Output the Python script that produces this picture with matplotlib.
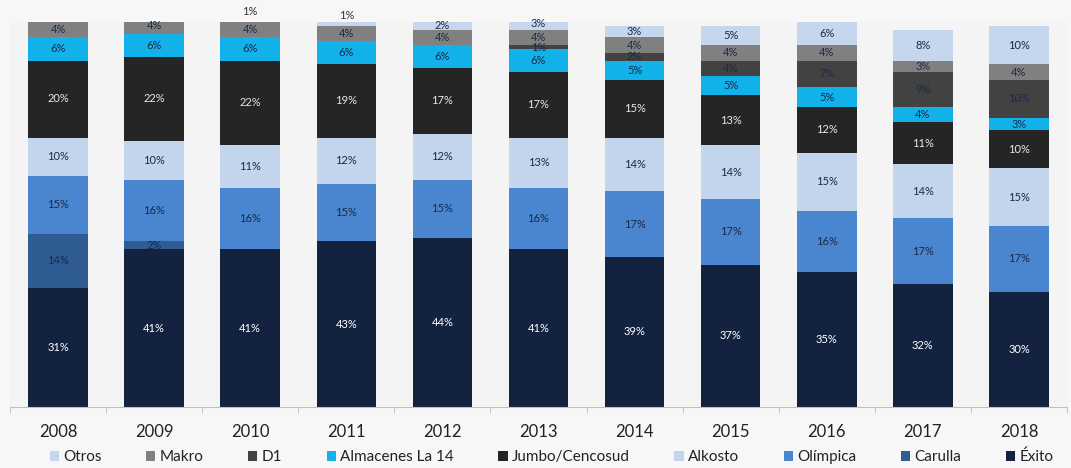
import numpy as np
import matplotlib.pyplot as plt

plt.rcParams['font.family'] = ['Lato', 'DejaVu Sans']

years = ['2008', '2009', '2010', '2011', '2012', '2013', '2014', '2015', '2016', '2017', '2018']

# participacion de mercado (%) por cadena, de abajo hacia arriba
exito = [31, 41, 41, 43, 44, 41, 39, 37, 35, 32, 30]
carulla = [14, 2, 0, 0, 0, 0, 0, 0, 0, 0, 0]
olimpica = [15, 16, 16, 15, 15, 16, 17, 17, 16, 17, 17]
alkosto = [10, 10, 11, 12, 12, 13, 14, 14, 15, 14, 15]
jumbo = [20, 22, 22, 19, 17, 17, 15, 13, 12, 11, 10]
la14 = [6, 6, 6, 6, 6, 6, 5, 5, 5, 4, 3]
d1 = [0, 0, 0, 0, 0, 1, 2, 4, 7, 9, 10]
makro = [4, 4, 4, 4, 4, 4, 4, 4, 4, 3, 4]
otros = [0, 0, 1, 1, 2, 3, 3, 5, 6, 8, 10]

series = [
    ('Éxito', exito, '#13233f', 'white'),
    ('Carulla', carulla, '#2f5c93', '#1a2a44'),
    ('Olímpica', olimpica, '#4a86d0', '#1a2a44'),
    ('Alkosto', alkosto, '#c3d5ec', '#1a2a44'),
    ('Jumbo/Cencosud', jumbo, '#252525', '#e8e8e8'),
    ('Almacenes La 14', la14, '#12b1ea', '#1a2a44'),
    ('D1', d1, '#424242', '#1a2a44'),
    ('Makro', makro, '#808080', '#1a2a44'),
    ('Otros', otros, '#c6d6ec', '#1a2a44'),
]

fig = plt.figure(figsize=(10.71, 4.68), dpi=100)
fig.patch.set_facecolor('#f7f7f7')
ax = fig.add_axes([10 / 1071, 1 - 407 / 468, 1057 / 1071, 385 / 468])
ax.set_facecolor('#f4f4f4')

x = np.arange(len(years))
bottom = np.zeros(len(years))
for name, vals, color, tcolor in series:
    vals = np.array(vals, dtype=float)
    ax.bar(x, vals, 0.62, bottom=bottom, color=color, label=name, linewidth=0)
    for i, v in enumerate(vals):
        if v <= 0:
            continue
        if v < 1.5 and name == 'Otros':
            # etiqueta encima de la barra
            ax.text(x[i], bottom[i] + v + 0.3, f'{int(v)}%', ha='center', va='bottom',
                    fontsize=8, color='#333333')
        else:
            ax.text(x[i], bottom[i] + v / 2, f'{int(v)}%', ha='center', va='center',
                    fontsize=8, color=tcolor)
    bottom += vals

ax.set_xlim(-0.5, len(years) - 0.5)
ax.set_ylim(0, 100)
ax.set_xticks(x)
ax.set_xticklabels(years, fontsize=12, color='#222222')
ax.set_xticks(np.arange(-0.5, len(years), 1), minor=True)
ax.tick_params(axis='x', which='major', length=0, pad=12)
ax.tick_params(axis='x', which='minor', length=4, color='#bfbfbf')
ax.set_yticks([])
for s in ['top', 'right', 'left']:
    ax.spines[s].set_visible(False)
ax.spines['bottom'].set_color('#bfbfbf')

handles, labels = ax.get_legend_handles_labels()
fig.legend(handles[::-1], labels[::-1], loc='center', ncol=9,
           bbox_to_anchor=(0.515, 1 - 457 / 468), frameon=False, fontsize=11,
           handlelength=0.6, handleheight=0.6, handletextpad=0.3,
           columnspacing=2.9, labelcolor='#222222', borderpad=0)

fig.savefig('out.png', dpi=100, facecolor=fig.get_facecolor())
